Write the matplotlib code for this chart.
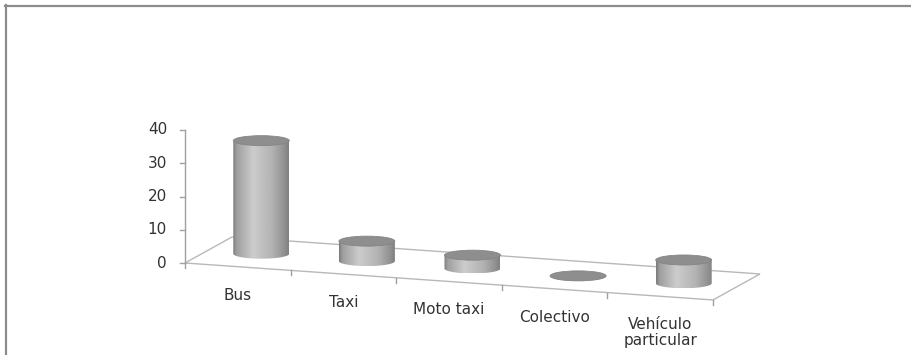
import numpy as np
import matplotlib
matplotlib.use("Agg")
from matplotlib import pyplot as plt
from matplotlib.lines import Line2D
from matplotlib.patches import Ellipse, PathPatch, Polygon
from matplotlib.path import Path

categories = ["Bus", "Taxi", "Moto taxi", "Colectivo", "Vehículo\nparticular"]
values = [34, 6, 4, 0, 7]
value_ticks = [0, 10, 20, 30, 40]

# Oblique 3-D look: (category, depth, value) -> 2-D axes data units.
PX_PER_CAT = 105.6
PX_PER_VAL = 3.325
SLOPE = 0.07 * PX_PER_CAT / PX_PER_VAL   # front edge runs down to the right
DEPTH_X = 47 / PX_PER_CAT
DEPTH_Y = 26 / PX_PER_VAL
BAR_HALF_W = 28 / PX_PER_CAT
CAP_HALF_H = 5 / PX_PER_VAL

AXIS_GREY = "#a0a0a0"
TEXT_GREY = "#333333"


def project(c, d, v):
    return c + d * DEPTH_X, v - c * SLOPE + d * DEPTH_Y


fig = plt.figure(figsize=(9.12, 3.55), dpi=100)
ax = fig.add_axes([0, 0, 1, 1])
ax.axis("off")

n = len(categories)

# Floor
floor = [project(0, 0, 0), project(n, 0, 0), project(n, 1, 0), project(0, 1, 0)]
ax.add_patch(Polygon(floor, closed=True, fill=False, edgecolor="#b8b8b8", lw=1, zorder=1))

# Category ticks and labels along the front edge
for i in range(n + 1):
    x, y = project(i, 0, 0)
    ax.add_line(Line2D([x, x], [y, y - 1.5], color=AXIS_GREY, lw=1, zorder=1))
for i, name in enumerate(categories):
    x, y = project(i + 0.5, 0, 0)
    ax.text(x, y - 21 / PX_PER_VAL, name, ha="center", va="top", fontsize=11,
            color=TEXT_GREY, linespacing=1.1, multialignment="center")

# Value axis
x0, y0 = project(0, 0, 0)
ax.add_line(Line2D([x0, x0], [y0, y0 + value_ticks[-1]], color=AXIS_GREY, lw=1, zorder=1))
for t in value_ticks:
    ax.add_line(Line2D([x0 - 0.047, x0], [y0 + t, y0 + t], color=AXIS_GREY, lw=1, zorder=1))
    ax.text(x0 - 0.17, y0 + t, str(t), ha="right", va="center", fontsize=11, color=TEXT_GREY)

# Cylinders
shade = np.interp(np.linspace(0, 1, 200),
                  [0, 0.06, 0.36, 0.70, 0.93, 1],
                  [0.48, 0.62, 0.80, 0.70, 0.56, 0.50])
theta = np.linspace(np.pi, 2 * np.pi, 60)
for i, v in enumerate(values):
    cx, base = project(i + 0.5, 0.5, 0)
    top = base + v
    arc = np.column_stack([cx + BAR_HALF_W * np.cos(theta), base + CAP_HALF_H * np.sin(theta)])
    verts = np.vstack([[cx - BAR_HALF_W, top], arc, [cx + BAR_HALF_W, top], [cx - BAR_HALF_W, top]])
    body = PathPatch(Path(verts, closed=True), facecolor="none", edgecolor="none", zorder=2)
    ax.add_patch(body)
    im = ax.imshow(shade[None, :], cmap="gray", vmin=0, vmax=1, aspect="auto",
                   interpolation="bilinear", zorder=2,
                   extent=[cx - BAR_HALF_W, cx + BAR_HALF_W, base - CAP_HALF_H, top + CAP_HALF_H])
    im.set_clip_path(body)
    ax.add_patch(Ellipse((cx, top), 2 * BAR_HALF_W, 2 * CAP_HALF_H,
                         facecolor="#8e8e8e", edgecolor="#858585", lw=0.6, zorder=3))

ax.set_xlim(-185 / PX_PER_CAT, (912 - 185) / PX_PER_CAT)
ax.set_ylim((263 - 355) / PX_PER_VAL, 263 / PX_PER_VAL)

# Chart frame (top and left edges)
fig.add_artist(Line2D([5 / 912, 1], [1 - 6 / 355, 1 - 6 / 355], transform=fig.transFigure,
                      color="#8c8c8c", lw=1.6))
fig.add_artist(Line2D([6 / 912, 6 / 912], [0, 1 - 5 / 355], transform=fig.transFigure,
                      color="#8c8c8c", lw=1.6))

fig.savefig("out.png", dpi=100, facecolor="white")
